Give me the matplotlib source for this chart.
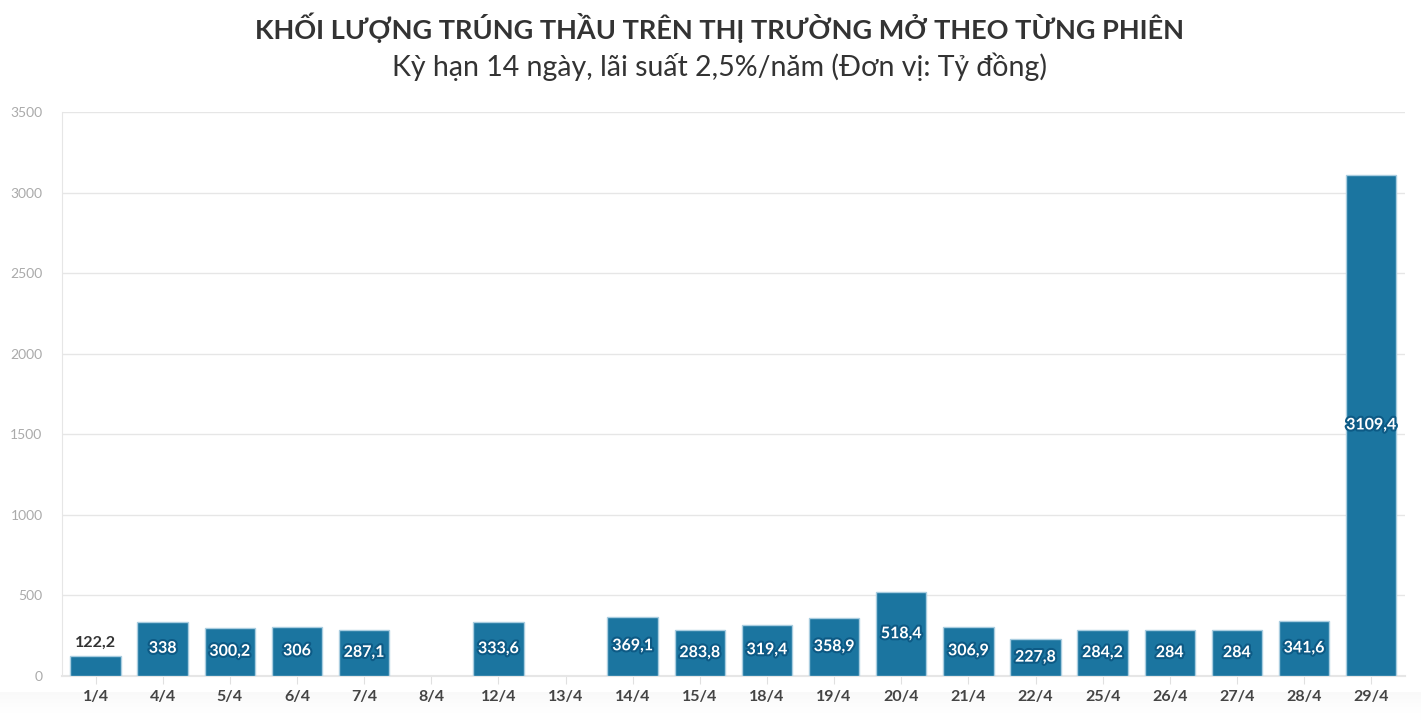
import matplotlib.pyplot as plt
import matplotlib.patheffects as pe
import numpy as np

ngay = ["1/4", "4/4", "5/4", "6/4", "7/4", "8/4", "12/4", "13/4", "14/4", "15/4",
        "18/4", "19/4", "20/4", "21/4", "22/4", "25/4", "26/4", "27/4", "28/4", "29/4"]
khoi_luong = [122.2, 338, 300.2, 306, 287.1, 0, 333.6, 0, 369.1, 283.8,
              319.4, 358.9, 518.4, 306.9, 227.8, 284.2, 284, 284, 341.6, 3109.4]
nhan = ["122,2", "338", "300,2", "306", "287,1", "", "333,6", "", "369,1", "283,8",
        "319,4", "358,9", "518,4", "306,9", "227,8", "284,2", "284", "284", "341,6", "3109,4"]

plt.rcParams['font.family'] = ['Lato', 'DejaVu Sans']

fig = plt.figure(figsize=(14.21, 7.25), dpi=100)
ax = fig.add_axes([0.0436, 0.0676, 0.945, 0.778])

# bong mo o day
bg = fig.add_axes([0, 0, 1, 0.045], zorder=-1)
grad = np.linspace(1, 0, 50).reshape(-1, 1) ** 1.5
bg.imshow(grad, aspect='auto', cmap='Greys', vmin=0, vmax=20, extent=[0, 1, 0, 1])
bg.axis('off')

x = np.arange(len(ngay))
co = [v > 0 for v in khoi_luong]
ax.bar(x[co], np.array(khoi_luong)[co], width=0.75, color="#1b75a0",
       edgecolor="#a9cde0", linewidth=1, zorder=3)

for i, v in enumerate(khoi_luong):
    if not nhan[i]:
        continue
    if v < 200:
        ax.text(i, v + 40, nhan[i], ha='center', va='bottom', fontsize=11.5,
                fontweight='bold', color="#333333", zorder=4)
    else:
        ax.text(i, v / 2, nhan[i], ha='center', va='center', fontsize=11.5,
                fontweight='bold', color="white", zorder=4,
                path_effects=[pe.withStroke(linewidth=3, foreground="#0d5a85")])

ax.set_xlim(-0.5, len(ngay) - 0.5)
ax.set_ylim(0, 3500)
ax.set_yticks(range(0, 3501, 500))
ax.set_xticks(x)
ax.set_xticklabels(ngay, fontsize=11.5, fontweight='bold', color="#444444")
ax.tick_params(axis='y', length=0, labelsize=10, labelcolor="#aaaaaa", pad=14)
ax.tick_params(axis='x', length=6, color="#e0e0e0", pad=4)
ax.grid(axis='y', color="#e6e6e6", linewidth=1, zorder=0)
for s in ['top', 'right']:
    ax.spines[s].set_visible(False)
ax.spines['left'].set_color("#e6e6e6")
ax.spines['bottom'].set_color("#e6e6e6")
ax.spines['bottom'].set_linewidth(1.5)

fig.text(0.506, 0.962, "KHỐI LƯỢNG TRÚNG THẦU TRÊN THỊ TRƯỜNG MỞ THEO TỪNG PHIÊN",
         ha='center', va='center', fontsize=19.5, fontweight='bold', color="#333333")
fig.text(0.506, 0.908, "Kỳ hạn 14 ngày, lãi suất 2,5%/năm (Đơn vị: Tỷ đồng)",
         ha='center', va='center', fontsize=20.5, color="#333333")

fig.savefig("out.png", dpi=100)
